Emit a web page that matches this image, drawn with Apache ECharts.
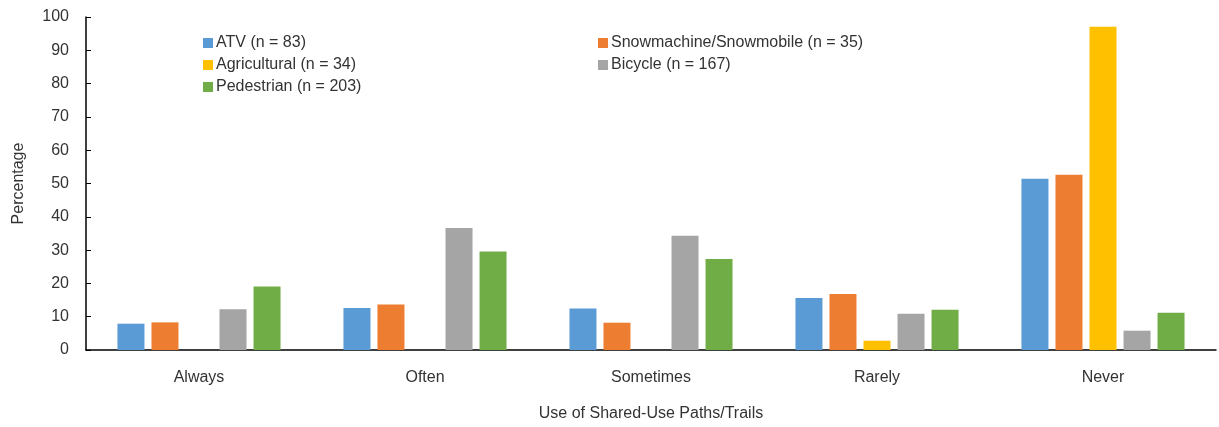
<!DOCTYPE html>
<html>
<head>
<meta charset="utf-8">
<script src="https://cdn.jsdelivr.net/npm/echarts@6/dist/echarts.min.js"></script>
<style>
  html, body { margin: 0; padding: 0; background: #fff; }
  #chart { width: 1219px; height: 427px; }
</style>
</head>
<body>
<div id="chart"></div>
<script>
// Frequency of shared-use path/trail use, by traveller type (percent)
const categories = ['Always', 'Often', 'Sometimes', 'Rarely', 'Never'];
const seriesNames = ['ATV (n = 83)', 'Snowmachine/Snowmobile (n = 35)', 'Agricultural (n = 34)', 'Bicycle (n = 167)', 'Pedestrian (n = 203)'];
const atv          = [7.9, 12.6, 12.5, 15.6, 51.4];
const snowmachine  = [8.3, 13.7, 8.2, 16.8, 52.6];
const agricultural = [0, 0, 0, 2.8, 97.1];
const bicycle      = [12.2, 36.6, 34.3, 10.9, 5.8];
const pedestrian   = [19.1, 29.6, 27.3, 12.1, 11.2];
const yTicks = { min: 0, max: 100, interval: 10 };

const colors = ['#5B9BD5', '#ED7D31', '#FFC000', '#A5A5A5', '#70AD47'];
const values = [atv, snowmachine, agricultural, bicycle, pedestrian];
const font = 'Liberation Sans, Arial, sans-serif';
const textColor = '#333333';

const chart = echarts.init(document.getElementById('chart'), null, { renderer: 'canvas' });

const legendCommon = {
  orient: 'vertical',
  itemWidth: 10,
  itemHeight: 10,
  itemGap: 6,
  icon: 'rect',
  textStyle: { fontFamily: font, fontSize: 16, color: textColor, padding: [0, 0, 0, -2] },
  padding: 0
};

chart.setOption({
  animation: false,
  color: colors,
  textStyle: { fontFamily: font },
  grid: { left: 86, right: 3, top: 17, bottom: 76, containLabel: false },
  legend: [
    Object.assign({}, legendCommon, { left: 203, top: 35, data: [seriesNames[0], seriesNames[2], seriesNames[4]] }),
    Object.assign({}, legendCommon, { left: 598, top: 35, data: [seriesNames[1], seriesNames[3]] })
  ],
  xAxis: {
    type: 'category',
    data: categories,
    name: 'Use of Shared-Use Paths/Trails',
    nameLocation: 'middle',
    nameGap: 56,
    nameTextStyle: { fontFamily: font, fontSize: 16, color: textColor },
    axisLine: { lineStyle: { color: '#000', width: 1.5 } },
    axisTick: { show: false },
    axisLabel: { fontFamily: font, fontSize: 16, color: textColor, margin: 20 }
  },
  yAxis: {
    type: 'value',
    min: yTicks.min,
    max: yTicks.max,
    interval: yTicks.interval,
    name: 'Percentage',
    nameLocation: 'middle',
    nameGap: 59,
    nameTextStyle: { fontFamily: font, fontSize: 16, color: textColor },
    axisLine: { show: true, lineStyle: { color: '#000', width: 1.5 } },
    axisTick: { show: true, inside: true, length: 5, lineStyle: { color: '#000' } },
    splitLine: { show: false },
    axisLabel: { fontFamily: font, fontSize: 16, color: textColor, margin: 17 }
  },
  series: seriesNames.map((name, i) => ({
    name: name,
    type: 'bar',
    data: values[i],
    barWidth: 27,
    barGap: '26%',
    z: 1,
    itemStyle: { color: colors[i] }
  }))
});
</script>
</body>
</html>
